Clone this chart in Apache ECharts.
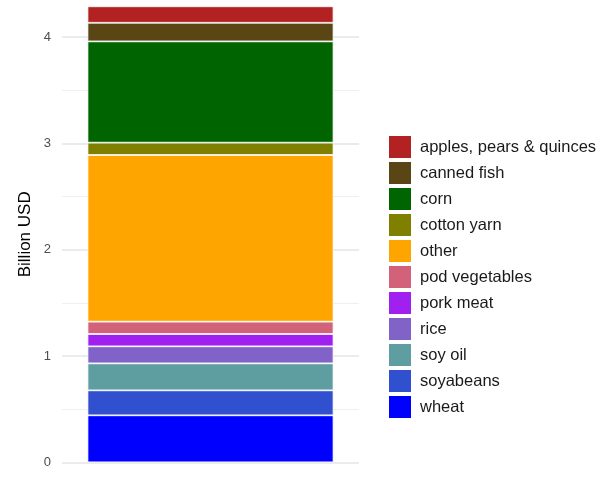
<!DOCTYPE html>
<html><head><meta charset="utf-8">
<script src="https://cdn.jsdelivr.net/npm/echarts@6/dist/echarts.min.js"></script>
<style>html,body{margin:0;padding:0;background:#fff}#c{width:611px;height:477px}</style>
</head><body><div id="c"></div>
<script>
// stacked from bottom (wheat) to top (apples)
const products = ['wheat','soyabeans','soy oil','rice','pork meat','pod vegetables','other','cotton yarn','corn','canned fish','apples, pears & quinces'];
const values   = [0.442, 0.235, 0.254, 0.160, 0.116, 0.116, 1.568, 0.116, 0.953, 0.175, 0.155];
const colors   = ['#0000ff','#3050d0','#5f9ea0','#8062c9','#a020f0','#d1627a','#ffa500','#808000','#006400','#5a4614','#b22222'];
const category = [''];
const yTicks = [0,1,2,3,4];

const chart = echarts.init(document.getElementById('c'));
const series = products.map((p,i)=>({
  name:p, type:'bar', stack:'total', data:[values[i]], barWidth:246,
  itemStyle:{color:colors[i], borderColor:'#fff', borderWidth:0.8},
  emphasis:{disabled:true}
}));
chart.setOption({
  animation:false,
  textStyle:{fontFamily:'Liberation Sans, Arial, sans-serif'},
  grid:{left:62, right:252, top:6.3, bottom:14.7, containLabel:false},
  xAxis:{type:'category', data:category, axisLine:{show:false}, axisTick:{show:false}, axisLabel:{show:false}},
  yAxis:{type:'value', min:0, max:4.29, interval:1,
    axisLabel:{color:'#4d4d4d', fontSize:13, margin:11, showMaxLabel:false, formatter:v=>yTicks.includes(v)?String(v):''},
    axisLine:{show:false}, axisTick:{show:false},
    splitLine:{showMaxLine:false, lineStyle:{color:'#ebebeb', width:2}},
    minorTick:{show:false, splitNumber:2},
    minorSplitLine:{show:true, lineStyle:{color:'#efefef', width:1}},
    name:'Billion USD', nameLocation:'middle', nameGap:28, nameRotate:90,
    nameTextStyle:{color:'#000', fontSize:17}
  },
  legend:{orient:'vertical', left:387, top:134, padding:0, itemWidth:24, itemHeight:24, itemGap:0,
    icon:'rect', data:products.slice().reverse(),
    textStyle:{color:'#1a1a1a', fontSize:16.5, padding:[0,0,0,3], lineHeight:24}},
  series:series
});
</script></body></html>
